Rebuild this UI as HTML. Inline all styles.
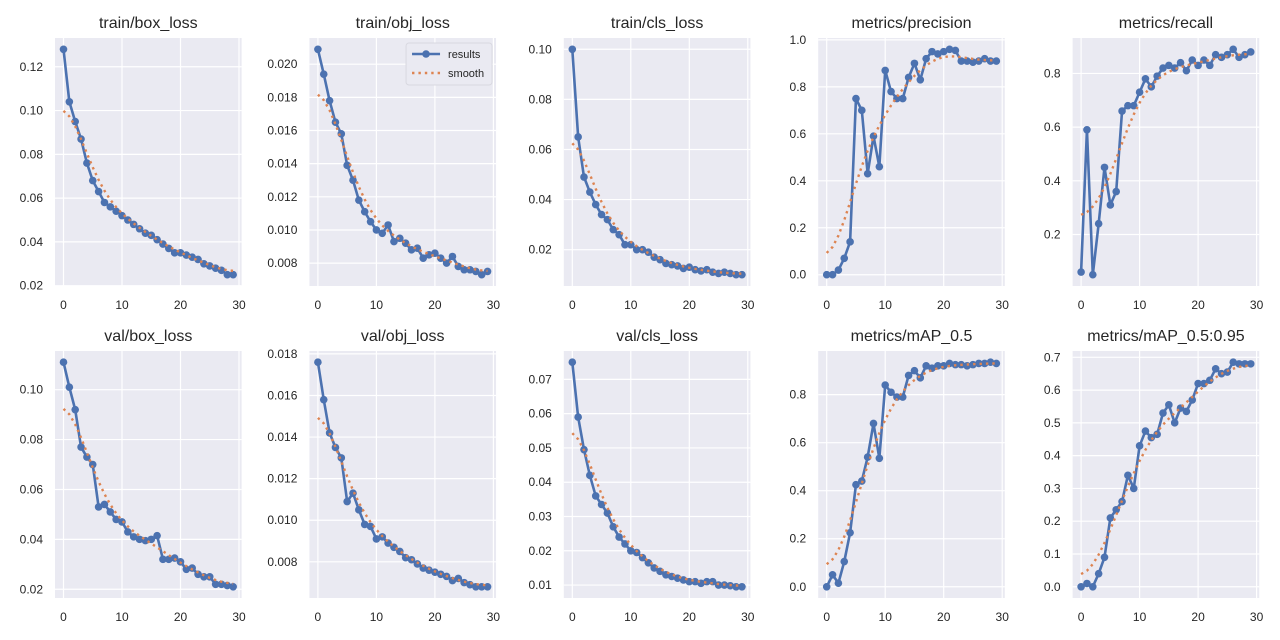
<!DOCTYPE html>
<html><head><meta charset="utf-8"><style>
html,body{margin:0;padding:0;background:#fff;}
svg{display:block;font-family:"Liberation Sans","DejaVu Sans",sans-serif;}
</style></head><body>
<svg id="fig" width="1280" height="640" viewBox="0 0 1280 640" xmlns="http://www.w3.org/2000/svg"></svg>
<script>
const epochs = [0,1,2,3,4,5,6,7,8,9,10,11,12,13,14,15,16,17,18,19,20,21,22,23,24,25,26,27,28,29];
const xTicks = [0,10,20,30];
const trainBox = [0.128,0.104,0.095,0.087,0.076,0.068,0.063,0.058,0.056,0.054,0.052,0.050,0.048,0.046,0.044,0.043,0.041,0.039,0.037,0.035,0.035,0.034,0.033,0.032,0.030,0.029,0.028,0.027,0.025,0.025];
const trainObj = [0.0209,0.0194,0.0178,0.0165,0.0158,0.0139,0.0130,0.0118,0.0111,0.0105,0.0100,0.0098,0.0103,0.0093,0.0095,0.0092,0.0088,0.0089,0.0083,0.0085,0.0086,0.0083,0.0080,0.0084,0.0078,0.0076,0.0076,0.0075,0.0073,0.0075];
const trainCls = [0.100,0.065,0.049,0.043,0.038,0.034,0.032,0.028,0.026,0.022,0.022,0.020,0.020,0.019,0.017,0.016,0.0145,0.014,0.0135,0.0125,0.013,0.012,0.0115,0.012,0.011,0.0105,0.011,0.0105,0.010,0.010];
const precision = [0.0,0.0,0.02,0.07,0.14,0.75,0.70,0.43,0.59,0.46,0.87,0.78,0.75,0.75,0.84,0.90,0.83,0.92,0.95,0.94,0.95,0.96,0.955,0.91,0.91,0.905,0.91,0.92,0.91,0.91];
const recall = [0.06,0.59,0.05,0.24,0.45,0.31,0.36,0.66,0.68,0.68,0.73,0.78,0.75,0.79,0.82,0.83,0.82,0.84,0.81,0.85,0.83,0.85,0.83,0.87,0.86,0.87,0.89,0.86,0.87,0.88];
const valBox = [0.111,0.101,0.092,0.077,0.073,0.070,0.053,0.054,0.051,0.048,0.047,0.043,0.041,0.040,0.0395,0.040,0.0415,0.032,0.032,0.0325,0.031,0.028,0.0285,0.026,0.025,0.025,0.022,0.022,0.0215,0.021];
const valObj = [0.0176,0.0158,0.0142,0.0135,0.0130,0.0109,0.0113,0.0105,0.0098,0.0097,0.0091,0.0092,0.0089,0.0087,0.0085,0.0082,0.0081,0.0079,0.0077,0.0076,0.0075,0.0074,0.0073,0.0071,0.0072,0.0070,0.0069,0.0068,0.0068,0.0068];
const valCls = [0.075,0.059,0.0495,0.042,0.036,0.0335,0.031,0.027,0.024,0.022,0.020,0.0195,0.018,0.0165,0.015,0.014,0.013,0.0125,0.012,0.0115,0.011,0.011,0.0105,0.011,0.011,0.010,0.010,0.0098,0.0095,0.0095];
const map50 = [0.0,0.05,0.015,0.105,0.225,0.425,0.44,0.54,0.68,0.535,0.84,0.81,0.79,0.79,0.88,0.90,0.87,0.92,0.91,0.92,0.92,0.93,0.925,0.925,0.92,0.925,0.93,0.93,0.935,0.93];
const map5095 = [0.0,0.01,0.0,0.04,0.09,0.21,0.235,0.26,0.34,0.30,0.43,0.475,0.455,0.465,0.53,0.555,0.50,0.545,0.535,0.57,0.62,0.62,0.63,0.665,0.65,0.655,0.685,0.68,0.68,0.68];
const titles = ["train/box_loss","train/obj_loss","train/cls_loss","metrics/precision","metrics/recall","val/box_loss","val/obj_loss","val/cls_loss","metrics/mAP_0.5","metrics/mAP_0.5:0.95"];
const yTicks1 = [0.02,0.04,0.06,0.08,0.10,0.12];
const yTicks2 = [0.008,0.010,0.012,0.014,0.016,0.018,0.020];
const yTicks3 = [0.02,0.04,0.06,0.08,0.10];
const yTicks4 = [0.0,0.2,0.4,0.6,0.8,1.0];
const yTicks5 = [0.2,0.4,0.6,0.8];
const yTicks6 = [0.02,0.04,0.06,0.08,0.10];
const yTicks7 = [0.008,0.010,0.012,0.014,0.016,0.018];
const yTicks8 = [0.01,0.02,0.03,0.04,0.05,0.06,0.07];
const yTicks9 = [0.0,0.2,0.4,0.6,0.8];
const yTicks10 = [0.0,0.1,0.2,0.3,0.4,0.5,0.6,0.7];

const NS="http://www.w3.org/2000/svg";
const svg=document.getElementById('fig');
function mk(tag,attrs,parent){const e=document.createElementNS(NS,tag);for(const k in attrs)e.setAttribute(k,attrs[k]);(parent||svg).appendChild(e);return e;}
function gauss(y,s){const r=Math.round(4*s),w=[];let sum=0;for(let k=-r;k<=r;k++){const v=Math.exp(-k*k/(2*s*s));w.push(v);sum+=v;}const n=y.length;const refl=i=>{while(i<0||i>=n){if(i<0)i=-i-1;if(i>=n)i=2*n-i-1;}return i;};return y.map((_,i)=>{let a=0;for(let k=-r;k<=r;k++)a+=w[k+r]*y[refl(i+k)];return a/sum;});}

const series=[trainBox,trainObj,trainCls,precision,recall,valBox,valObj,valCls,map50,map5095];
const yTickSets=[yTicks1,yTicks2,yTicks3,yTicks4,yTicks5,yTicks6,yTicks7,yTicks8,yTicks9,yTicks10];
const decs=[2,3,2,1,1,2,3,2,1,1];
const slugs=["train-box-loss","train-obj-loss","train-cls-loss","precision","recall","val-box-loss","val-obj-loss","val-cls-loss","map-05","map-05-095"];

series.forEach((ys,p)=>{
  const col=p%5,row=Math.floor(p/5);
  const x0=63.5+254.4*col, sx=5.85;
  const L=x0-1.45*sx, R=x0+30.45*sx;
  const T=row?351:38, B=row?598:286;
  const mn=Math.min(...ys),mx=Math.max(...ys),pad=(mx-mn)*0.05;
  const lo=mn-pad,hi=mx+pad;
  const X=v=>x0+v*sx;
  const Y=v=>B-(v-lo)/(hi-lo)*(B-T);
  const g=mk('g',{});
  
  
  const bg=mk('rect',{x:L,y:T,width:R-L,height:B-T,fill:'#eaeaf2'},g);
  
  
  xTicks.forEach(t=>{
    mk('line',{x1:X(t),x2:X(t),y1:T,y2:B,stroke:'#fff','stroke-width':1.2},g);
    const tx=mk('text',{x:X(t),y:B+23,'font-size':12,fill:'#262626','text-anchor':'middle'},g);
    tx.textContent=t;
    
    
  });
  yTickSets[p].forEach(t=>{
    mk('line',{x1:L,x2:R,y1:Y(t),y2:Y(t),stroke:'#fff','stroke-width':1.2},g);
    const tx=mk('text',{x:L-12,y:Y(t)+4,'font-size':12,fill:'#262626','text-anchor':'end'},g);
    tx.textContent=t.toFixed(decs[p]);
    
    
  });
  const ti=mk('text',{x:(L+R)/2,y:T-10,'font-size':16,fill:'#262626','text-anchor':'middle'},g);
  ti.textContent=titles[p];
  
  
  const line=mk('polyline',{points:ys.map((v,i)=>X(epochs[i])+','+Y(v)).join(' '),fill:'none',stroke:'#4c72b0','stroke-width':2.6,'stroke-linejoin':'round'},g);
  
  
  ys.forEach((v,i)=>{
    const c=mk('circle',{cx:X(epochs[i]),cy:Y(v),r:3.8,fill:'#4c72b0'},g);
    
    
  });
  const sm=gauss(ys,3);
  const sl=mk('polyline',{points:sm.map((v,i)=>X(epochs[i])+','+Y(v)).join(' '),fill:'none',stroke:'#dd8452','stroke-width':2.4,'stroke-dasharray':'2.4,4'},g);
  
  
  if(p===1){
    const lg=mk('g',{},g);
    
    
    mk('rect',{x:R-90,y:T+5,width:86,height:42,rx:3,fill:'#eaeaf2',stroke:'#d8d8e0','stroke-width':1},lg);
    mk('line',{x1:R-84,x2:R-56,y1:T+16,y2:T+16,stroke:'#4c72b0','stroke-width':2.6},lg);
    mk('circle',{cx:R-70,cy:T+16,r:3.8,fill:'#4c72b0'},lg);
    const t1=mk('text',{x:R-48,y:T+20,'font-size':11,fill:'#262626'},lg);t1.textContent='results';
    
    
    mk('line',{x1:R-84,x2:R-56,y1:T+35,y2:T+35,stroke:'#dd8452','stroke-width':2.4,'stroke-dasharray':'2.4,4'},lg);
    const t2=mk('text',{x:R-48,y:T+39,'font-size':11,fill:'#262626'},lg);t2.textContent='smooth';
    
    
  }
});
</script>
</body></html>
